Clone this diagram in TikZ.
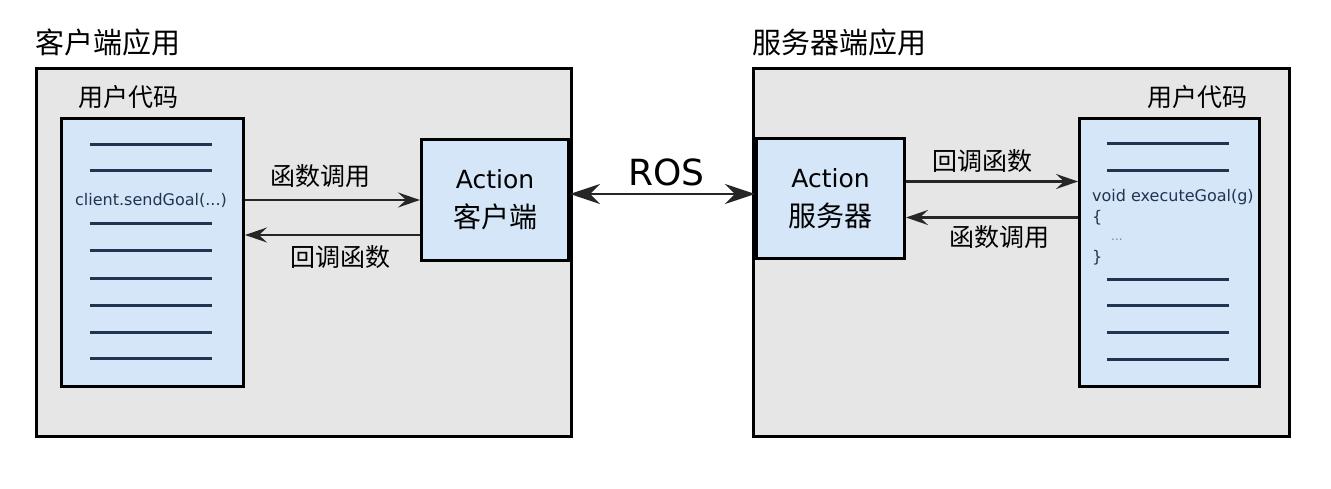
\documentclass[tikz,border=0pt]{standalone}
\usepackage{fontspec}
\setmainfont{DejaVu Sans}
\newfontfamily\cjk{Noto Sans CJK SC}
\usetikzlibrary{arrows.meta}
\usetikzlibrary{positioning}

\definecolor{appgray}{HTML}{E6E6E6}
\definecolor{codeblue}{HTML}{D4E6F7}
\definecolor{codeline}{HTML}{1F3550}

\tikzset{
  appbox/.style={draw, line width=3pt, fill=appgray, inner sep=0pt, anchor=north west},
  codebox/.style={draw, line width=3pt, fill=codeblue, inner sep=0pt, anchor=north west},
  actbox/.style={draw, line width=3pt, fill=codeblue, inner sep=0pt, align=center,
                 anchor=north west, font=\fontsize{25}{39}\selectfont},
  apptitle/.style={font=\cjk\fontsize{29}{32}\selectfont, inner sep=0pt},
  cnlabel/.style={font=\cjk\fontsize{25}{28}\selectfont, inner sep=0pt},
  call/.style={line width=2.2pt, draw=black!85, -{Stealth[length=22pt,width=15pt,inset=8pt]}},
  rosarrow/.style={line width=2.2pt, draw=black!85, {Stealth[length=30pt,width=20pt,inset=10pt]}-{Stealth[length=30pt,width=20pt,inset=10pt]}},
  codeln/.style={line width=3pt, draw=codeline},
  codetext/.style={font=\fontsize{16}{18}\selectfont, text=codeline, inner sep=0pt}
}

\begin{document}
\begin{tikzpicture}[x=1pt,y=-1pt]
  \useasboundingbox (0,0) rectangle (1331,489);

  % client application
  \node[appbox, minimum width=535pt, minimum height=368pt] (client) at (35,67) {};
  \node[apptitle, anchor=west] (clienttitle) at (35,42) {客户端应用};
  \node[codebox, minimum width=182pt, minimum height=268pt] (ccode) at (60,117) {};
  \node[cnlabel, anchor=west] (ccodelabel) at (78,97) {用户代码};
  \foreach \y in {145,171,224,251,278,305,332,358}
    \draw[codeln] (90,\y) -- (212,\y);
  \node[codetext] (csend) at (151,200) {client.sendGoal(...)};
  \node[actbox, minimum width=147pt, minimum height=121pt] (cact) at (420,138)
    {Action\\{\cjk\fontsize{28}{39}\selectfont 客户端}};

  % server application
  \node[appbox, minimum width=536pt, minimum height=368pt] (server) at (752,67) {};
  \node[apptitle, anchor=west] (servertitle) at (752,42) {服务器端应用};
  \node[codebox, minimum width=180pt, minimum height=268pt] (scode) at (1078,117) {};
  \node[cnlabel, anchor=east] (scodelabel) at (1248,97) {用户代码};
  \foreach \y in {144,171,279,305,332,359}
    \draw[codeln] (1107,\y) -- (1229,\y);
  \node[codetext, anchor=west] (sexec) at (1092,197) {void executeGoal(g)};
  \node[codetext, anchor=west] (sopen) at (1092,218) {\{};
  \node[codetext, anchor=west, text=codeline!60, font=\fontsize{12}{14}\selectfont] (sdots) at (1111,240) {...};
  \node[codetext, anchor=west] (sclose) at (1092,258) {\}};
  \node[actbox, minimum width=148pt, minimum height=120pt] (sact) at (755,137)
    {Action\\{\cjk\fontsize{28}{39}\selectfont 服务器}};

  % calls on the client side
  \draw[call] (ccode.east |- cact.west) -- node[cnlabel, above=11pt, xshift=-12pt] {函数调用} (cact.west);
  \draw[call] ([yshift=-35pt]cact.west) -- node[cnlabel, below=9pt, xshift=8pt] {回调函数} ([yshift=-35pt]cact.west -| ccode.east);

  % ROS link
  \draw[rosarrow] ([yshift=6pt]cact.east) -- node[above=7pt, inner sep=0pt, font=\fontsize{36}{40}\selectfont, xshift=4pt] (roslabel) {ROS} ([yshift=6pt]cact.east -| sact.west);

  % calls on the server side
  \draw[call] ([yshift=17pt]sact.east) -- node[cnlabel, above=8pt, xshift=-10pt] {回调函数} ([yshift=17pt]sact.east -| scode.west);
  \draw[call] ([yshift=-19pt]sact.east -| scode.west) -- node[cnlabel, below=7pt, xshift=7pt] {函数调用} ([yshift=-19pt]sact.east);
\end{tikzpicture}
\end{document}
